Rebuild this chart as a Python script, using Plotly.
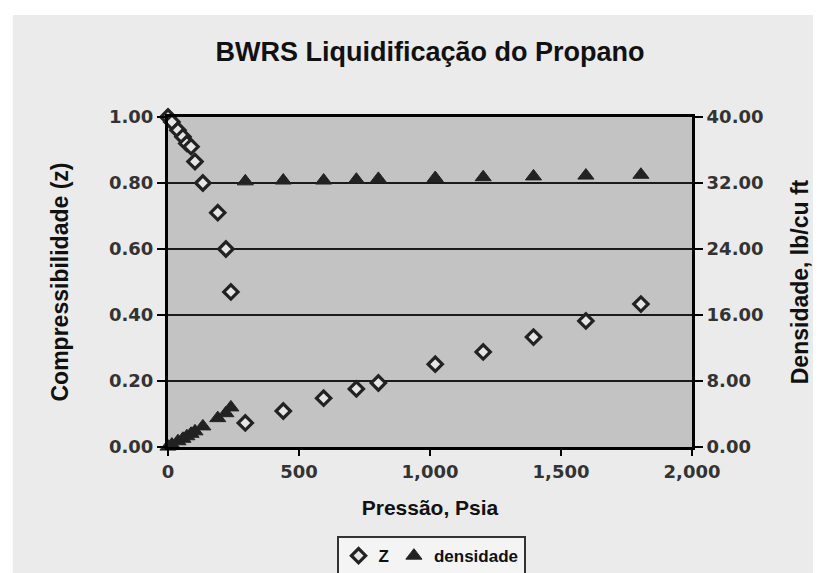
import plotly.graph_objects as go

# ==========================================================
# DATA
# ==========================================================

pressao = [0, 15, 38, 57, 72, 88, 103, 133, 190, 221, 240,
           295, 440, 594, 719, 803, 1020, 1203, 1395, 1595, 1805]

z = [1.00, 0.985, 0.96, 0.94, 0.92, 0.91, 0.865, 0.80, 0.71, 0.60, 0.47,
     0.073, 0.109, 0.148, 0.176, 0.194, 0.251, 0.288, 0.333, 0.382, 0.433]

densidade = [0.05, 0.3, 0.7, 1.0, 1.3, 1.6, 1.9, 2.5, 3.5, 4.1, 4.8,
             32.2, 32.3, 32.3, 32.4, 32.5, 32.6, 32.7, 32.8, 32.9, 33.0]

# ==========================================================
# FIGURE
# ==========================================================

TICK_FONT = dict(family="DejaVu Sans", size=18, color="#333333", weight="bold")
TITLE_FONT = dict(family="Liberation Sans", size=23, color="#111111")

fig = go.Figure()

fig.add_trace(
    go.Scatter(
        x=pressao,
        y=z,
        mode="markers",
        name="Z",
        cliponaxis=False,
        marker=dict(
            symbol="diamond",
            size=11,
            color="#e6e6e6",
            line=dict(color="#222222", width=3.2)
        )
    )
)

fig.add_trace(
    go.Scatter(
        x=pressao,
        y=densidade,
        mode="markers",
        name="densidade",
        yaxis="y2",
        cliponaxis=False,
        marker=dict(
            symbol="triangle-up",
            size=14,
            color="#222222",
            line=dict(color="#222222", width=1)
        )
    )
)

# outer grey panel and plot area fill
fig.add_shape(
    type="rect", xref="paper", yref="paper",
    x0=-0.296, x1=1.3, y0=-0.5, y1=1.309,
    fillcolor="#ebebeb", line_width=0, layer="below"
)
fig.add_shape(
    type="rect", xref="paper", yref="paper",
    x0=0, x1=1, y0=0, y1=1,
    fillcolor="#c3c3c3", line_width=0, layer="below"
)

# the page body adds an 8 px offset, margins compensate for it
fig.update_layout(
    width=821,
    height=573,
    margin=dict(l=160, r=137, t=109, b=134, autoexpand=False),
    paper_bgcolor="white",
    plot_bgcolor="#c3c3c3",
    title=dict(
        text="<b>BWRS Liquidificação do Propano</b>",
        x=0.5, xref="paper", xanchor="center",
        y=1 - 44 / 573, yanchor="middle",
        font=dict(family="Liberation Sans", size=27, color="#111111")
    ),
    xaxis=dict(
        range=[0, 2000],
        dtick=500,
        tickformat=",",
        showgrid=False,
        zeroline=False,
        showline=True,
        linecolor="black",
        linewidth=3,
        mirror=True,
        ticks="outside",
        ticklen=6,
        tickwidth=2,
        tickcolor="black",
        tickfont=TICK_FONT,
        automargin=False,
        title=dict(text="<b>Pressão, Psia</b>", font=dict(family="Liberation Sans", size=21, color="#111111"), standoff=20)
    ),
    yaxis=dict(
        range=[0, 1],
        dtick=0.2,
        tickformat=".2f",
        showgrid=True,
        gridcolor="#1a1a1a",
        gridwidth=2,
        zeroline=False,
        showline=True,
        linecolor="black",
        linewidth=3,
        mirror=True,
        ticks="outside",
        ticklen=8,
        tickwidth=2,
        tickcolor="black",
        tickfont=TICK_FONT,
        automargin=False,
        title=dict(text="<b>Compressibilidade (z)</b>", font=TITLE_FONT, standoff=34)
    ),
    yaxis2=dict(
        range=[0, 40],
        dtick=8,
        tickformat=".2f",
        overlaying="y",
        side="right",
        showgrid=False,
        zeroline=False,
        showline=True,
        linecolor="black",
        linewidth=3,
        ticks="outside",
        ticklen=8,
        tickwidth=2,
        tickcolor="black",
        tickfont=TICK_FONT,
        automargin=False,
        title=dict(text="<b>Densidade, lb/cu ft</b>", font=TITLE_FONT, standoff=30)
    ),
    legend=dict(
        orientation="h",
        x=0.502, xanchor="center",
        y=-0.27, yanchor="top",
        bgcolor="#f4f4f4",
        bordercolor="#333333",
        borderwidth=2,
        itemwidth=30,
        font=dict(family="Liberation Sans", size=17, color="#111111", weight="bold")
    ),
    showlegend=True
)

fig.write_html("out.html")
